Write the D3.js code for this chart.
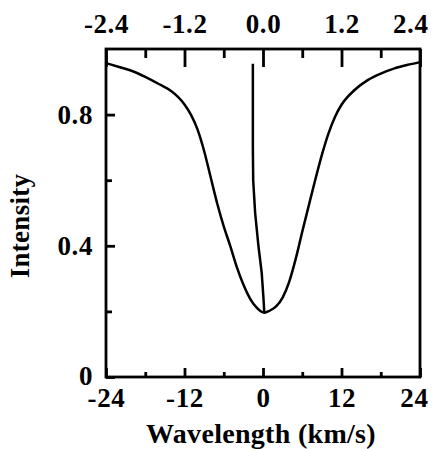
<!DOCTYPE html>
<html><head><meta charset="utf-8">
<script src="https://cdn.jsdelivr.net/npm/d3@7"></script>
<style>
html,body{margin:0;padding:0;background:#fff;}
svg text{font-family:"Liberation Serif","DejaVu Serif",serif;font-weight:bold;fill:#000;}
</style></head>
<body>
<svg id="c" width="433" height="449"></svg>
<script>
// Broad absorption profile
const broadVelocity = [-24,-22,-20,-18,-16,-14,-13,-12,-11,-10,-9,-8,-7,-6,-5,-4,-3,-2,-1,0.2,1,2,3,4,5,6,7,8,9,10,11,12,14,16,18,20,22,24];
const broadIntensity = [0.957,0.945,0.933,0.915,0.894,0.871,0.854,0.831,0.799,0.754,0.689,0.609,0.529,0.459,0.399,0.335,0.282,0.24,0.212,0.196,0.202,0.215,0.242,0.29,0.36,0.443,0.523,0.602,0.677,0.742,0.793,0.83,0.875,0.905,0.925,0.94,0.951,0.96];
// Narrow line
const narrowVelocity = [-1.55,-1.55,-1.5,-1.2,-0.7,-0.2,0.05,0.2];
const narrowIntensity = [0.955,0.70,0.60,0.50,0.40,0.318,0.247,0.196];
// Ticks
const bottomMajor = [-24,-12,0,12,24];
const bottomMinor = [-18,-6,6,18];
const topMajor = [-2.4,-1.2,0.0,1.2,2.4];
const topMinor = [-1.8,-0.6,0.6,1.8];
const yMajor = [0,0.4,0.8];
const yMinor = [0.2,0.6];

const svg = d3.select("#c");
const L = 106, R = 420, T = 49, B = 377;
const FS = 27;
const x = d3.scaleLinear().domain([-24,24]).range([L,R]);
const xTop = d3.scaleLinear().domain([-2.4,2.4]).range([L,R]);
const y = d3.scaleLinear().domain([0,1]).range([B,T]);

const g = svg.append("g");
const axStroke = 2.8;
const hy = s => String(s).replace("\u2212","-");

function styleAxis(sel){
  sel.select(".domain").remove();
  sel.selectAll("line").attr("stroke","#000").attr("stroke-width",axStroke);
}
function styleText(sel){
  sel.selectAll("text").attr("font-size",FS).attr("font-family","Liberation Serif")
    .attr("font-weight","bold").attr("fill","#000").attr("letter-spacing","0.6");
}
// bottom axis ticks (inward)
g.append("g").attr("transform",`translate(0,${B})`)
  .call(d3.axisBottom(x).tickValues(bottomMajor).tickSize(-9).tickFormat(d=>hy(d3.format("d")(d))))
  .call(s=>{styleAxis(s);styleText(s);s.selectAll("text").attr("dy",0).attr("y",30);
    s.selectAll(".tick").filter(d=>d===24).select("text").attr("text-anchor","end").attr("x",8);});
g.append("g").attr("transform",`translate(0,${B})`)
  .call(d3.axisBottom(x).tickValues(bottomMinor).tickSize(-5).tickFormat(""))
  .call(styleAxis);
// top axis
g.append("g").attr("transform",`translate(0,${T})`)
  .call(d3.axisTop(xTop).tickValues(topMajor).tickSize(-18).tickFormat(d=>hy(d3.format(".1f")(d))))
  .call(s=>{styleAxis(s);styleText(s);s.selectAll("text").attr("dy",0).attr("y",-16);
    s.selectAll(".tick").filter(d=>d===2.4).select("text").attr("text-anchor","end").attr("x",8);});
g.append("g").attr("transform",`translate(0,${T})`)
  .call(d3.axisTop(xTop).tickValues(topMinor).tickSize(-9).tickFormat(""))
  .call(styleAxis);
// left axis
g.append("g").attr("transform",`translate(${L},0)`)
  .call(d3.axisLeft(y).tickValues(yMajor).tickSize(-9).tickFormat(d=>d===0?"0":d3.format(".1f")(d)))
  .call(s=>{styleAxis(s);styleText(s);s.selectAll("text").attr("x",-13).attr("dy","0.34em");
    s.selectAll(".tick").filter(d=>d===0).select("text").attr("dy","0.26em");});
g.append("g").attr("transform",`translate(${L},0)`)
  .call(d3.axisLeft(y).tickValues(yMinor).tickSize(-6).tickFormat(""))
  .call(styleAxis);

// frame
g.append("rect").attr("x",L).attr("y",T).attr("width",R-L).attr("height",B-T)
  .attr("fill","none").attr("stroke","#000").attr("stroke-width",axStroke);

// curves
const broad = broadVelocity.map((v,i)=>[v,broadIntensity[i]]);
const narrow = narrowVelocity.map((v,i)=>[v,narrowIntensity[i]]);
g.append("path").datum(broad).attr("fill","none").attr("stroke","#000").attr("stroke-width",2.5)
  .attr("stroke-linejoin","round")
  .attr("d",d3.line().x(d=>x(d[0])).y(d=>y(d[1])).curve(d3.curveMonotoneX));
g.append("path").datum(narrow).attr("fill","none").attr("stroke","#000").attr("stroke-width",2.5)
  .attr("stroke-linejoin","round")
  .attr("d",d3.line().x(d=>x(d[0])).y(d=>y(d[1])).curve(d3.curveLinear));

// titles
svg.append("text").attr("x",261).attr("y",443).attr("text-anchor","middle").attr("font-size",FS+1).attr("letter-spacing","0.3").text("Wavelength (km/s)");
svg.append("text").attr("transform","translate(29,226) rotate(-90)").attr("text-anchor","middle").attr("font-size",FS).attr("letter-spacing","0.3").text("Intensity");
</script>
</body></html>
